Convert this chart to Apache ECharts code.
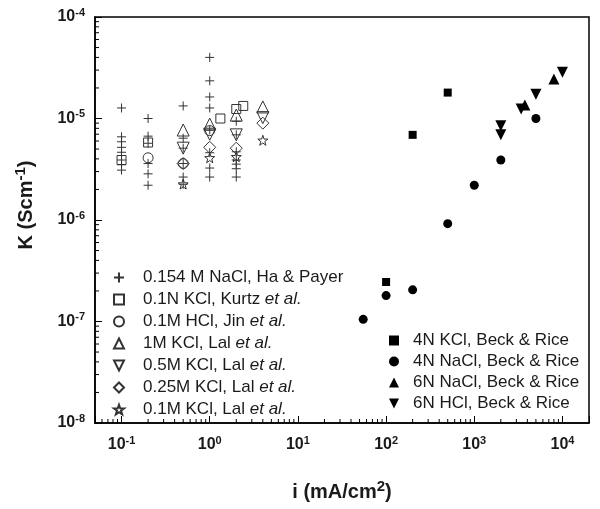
<!DOCTYPE html>
<html>
<head>
<meta charset="utf-8">
<script src="https://cdn.jsdelivr.net/npm/echarts@6/dist/echarts.min.js"></script>
<style>html,body{margin:0;padding:0;background:#fff;}#c{width:600px;height:509px;}</style>
</head>
<body>
<div id="c"></div>
<script>
// ---- data ----
var haPayer = [
  [0.1,1.27e-5],[0.1,6.6e-6],[0.1,5.9e-6],[0.1,5.2e-6],[0.1,4.65e-6],[0.1,3.9e-6],[0.1,3.5e-6],[0.1,3.1e-6],
  [0.2,1.0e-5],[0.2,6.7e-6],[0.2,5.7e-6],[0.2,3.6e-6],[0.2,2.85e-6],[0.2,2.2e-6],
  [0.5,1.33e-5],[0.5,6.4e-6],[0.5,5.1e-6],[0.5,3.6e-6],[0.5,2.65e-6],[0.5,2.25e-6],
  [1,4.0e-5],[1,2.35e-5],[1,1.63e-5],[1,1.27e-5],[1,7.7e-6],[1,4.6e-6],[1,3.25e-6],[1,2.65e-6],
  [2,9.4e-6],[2,6.9e-6],[2,4.7e-6],[2,3.9e-6],[2,3.55e-6],[2,3.2e-6],[2,2.65e-6]
];
var kurtz = [[0.1,3.9e-6],[0.2,5.8e-6],[1.32,1.0e-5],[2,1.24e-5],[2.4,1.33e-5]];
var jin = [[0.2,4.1e-6],[0.5,3.6e-6],[1,7.6e-6]];
var lal1M = [[0.5,7.7e-6],[1,8.8e-6],[2,1.08e-5],[4,1.3e-5]];
var lal05M = [[0.5,5.1e-6],[1,7.0e-6],[2,6.9e-6],[4,1.02e-5]];
var lal025M = [[0.5,3.6e-6],[1,5.2e-6],[2,5.1e-6],[4,9.0e-6]];
var lal01M = [[0.5,2.26e-6],[1,4.1e-6],[2,4.2e-6],[4,6.1e-6]];
var beckKCl4N = [[100,2.45e-7],[200,6.9e-6],[500,1.8e-5]];
var beckNaCl4N = [[55,1.05e-7],[100,1.8e-7],[200,2.05e-7],[500,9.2e-7],[1000,2.2e-6],[2000,3.9e-6],[5000,1.0e-5]];
var beckNaCl6N = [[3750,1.36e-5],[8000,2.45e-5]];
var beckHCl6N = [[2000,8.5e-6],[2000,6.9e-6],[3400,1.24e-5],[5000,1.73e-5],[10000,2.85e-5]];

var names = ['0.154 M NaCl, Ha & Payer','0.1N KCl, Kurtz et al.','0.1M HCl, Jin et al.','1M KCl, Lal et al.',
             '0.5M KCl, Lal et al.','0.25M KCl, Lal et al.','0.1M KCl, Lal et al.'];
var namesR = ['4N KCl, Beck & Rice','4N NaCl, Beck & Rice','6N NaCl, Beck & Rice','6N HCl, Beck & Rice'];

var xMin = 0.05, xMax = 20000, yMin = 1e-8, yMax = 1e-4;

// ---- minor tick positions (axis decoration) ----
var minorTicks = [];
for (var e = -2; e <= 4; e++) {
  for (var m = 2; m <= 9; m++) {
    var v = m * Math.pow(10, e);
    if (v > xMin && v < xMax) minorTicks.push([v, yMin, 0]);
  }
}
for (var e2 = -8; e2 < -4; e2++) {
  for (var m2 = 2; m2 <= 9; m2++) {
    minorTicks.push([xMin, m2 * Math.pow(10, e2), 1]);
  }
}

var FONT = '"Liberation Sans", Arial, sans-serif';
var ink = '#1a1a1a';
var hollow = '#333';

var P_PLUS = 'path://M0,5L10,5M5,0L5,10';
var P_RECT = 'path://M0,0L10,0L10,10L0,10Z';
var P_UP = 'path://M5,0L10,10L0,10Z';
var P_DOWN = 'path://M0,0L10,0L5,10Z';
var P_DIAM = 'path://M5,0L10,5L5,10L0,5Z';
var P_STAR = 'path://M50,0L61.76,33.82L97.55,34.55L69.02,56.18L79.39,90.45L50,70L20.61,90.45L30.98,56.18L2.45,34.55L38.24,33.82Z';

function hollowSeries(name, data, symbol, size) {
  return {
    name: name, type: 'scatter', data: data, symbol: symbol, symbolSize: size,
    itemStyle: { color: 'rgba(0,0,0,0)', borderColor: hollow, borderWidth: 1, opacity: 1 },
    emphasis: { disabled: true }, z: 3
  };
}
function filledSeries(name, data, symbol, size) {
  return {
    name: name, type: 'scatter', data: data, symbol: symbol, symbolSize: size,
    itemStyle: { color: '#000', opacity: 1 },
    emphasis: { disabled: true }, z: 3
  };
}

function expLabel(v) {
  var l = Math.log10(v);
  var ex = Math.round(l);
  if (Math.abs(l - ex) > 1e-6) return '';
  return '{b|10}{s|' + ex + '}';
}
var tickRich = {
  b: { fontSize: 16, fontWeight: 'bold', fontFamily: FONT, color: ink, lineHeight: 20 },
  s: { fontSize: 11, fontWeight: 'bold', fontFamily: FONT, color: ink, lineHeight: 11, verticalAlign: 'top' }
};

function legendFmt(n) {
  var k = n.indexOf('et al.');
  if (k >= 0) return '{n|' + n.slice(0, k) + '}{i|et al.}';
  return '{n|' + n + '}';
}
function legRich(pad) {
  return {
    n: { fontSize: 17, fontFamily: FONT, color: ink, lineHeight: 16, padding: [0, 0, 0, pad] },
    i: { fontSize: 17, fontFamily: FONT, color: ink, fontStyle: 'italic', lineHeight: 16 }
  };
}

var chart = echarts.init(document.getElementById('c'), null, { renderer: 'canvas' });
chart.setOption({
  backgroundColor: '#fff',
  animation: false,
  grid: { left: 95, right: 11, top: 17, bottom: 86, show: true, borderColor: '#000', borderWidth: 1.5, backgroundColor: 'transparent' },
  xAxis: {
    type: 'log', logBase: 10, min: xMin, max: xMax, splitNumber: 5,
    name: '{a|i (mA/cm}{s|2}{a|)}', nameLocation: 'middle', nameGap: 56,
    nameTextStyle: { rich: {
      a: { fontSize: 20, fontWeight: 'bold', fontFamily: FONT, color: ink, lineHeight: 26 },
      s: { fontSize: 15, fontWeight: 'bold', fontFamily: FONT, color: ink, lineHeight: 15, verticalAlign: 'top' }
    } },
    axisLine: { lineStyle: { color: '#000', width: 1.5 } },
    axisTick: { inside: true, length: 7, lineStyle: { color: '#000', width: 1 } },
    axisLabel: { formatter: expLabel, margin: 12, rich: tickRich },
    splitLine: { show: false }
  },
  yAxis: {
    type: 'log', logBase: 10, min: yMin, max: yMax, splitNumber: 4,
    name: '{a|K (Scm}{s|-1}{a|)}', nameLocation: 'middle', nameGap: 56, nameRotate: 90,
    nameTextStyle: { padding: [0, 0, 0, 30], rich: {
      a: { fontSize: 20, fontWeight: 'bold', fontFamily: FONT, color: ink, lineHeight: 26 },
      s: { fontSize: 15, fontWeight: 'bold', fontFamily: FONT, color: ink, lineHeight: 15, verticalAlign: 'top' }
    } },
    axisLine: { lineStyle: { color: '#000', width: 1.5 } },
    axisTick: { inside: true, length: 7, lineStyle: { color: '#000', width: 1 } },
    axisLabel: { formatter: expLabel, margin: 10, rich: tickRich },
    splitLine: { show: false }
  },
  legend: [
    {
      data: names, orient: 'vertical', left: 113, top: 269, padding: 0,
      itemWidth: 10, itemHeight: 10, itemGap: 5, selectedMode: false,
      formatter: legendFmt, textStyle: { fontSize: 17, fontFamily: FONT, color: ink, rich: legRich(14) }
    },
    {
      data: namesR, orient: 'vertical', left: 389, top: 332, padding: 0,
      itemWidth: 10, itemHeight: 10, itemGap: 4, selectedMode: false,
      formatter: legendFmt, textStyle: { fontSize: 17, fontFamily: FONT, color: ink, rich: legRich(9) }
    }
  ],
  series: [
    hollowSeries(names[0], haPayer, P_PLUS, 9),
    hollowSeries(names[1], kurtz, P_RECT, 9),
    hollowSeries(names[2], jin, 'circle', 10),
    hollowSeries(names[3], lal1M, P_UP, 12),
    hollowSeries(names[4], lal05M, P_DOWN, 12),
    hollowSeries(names[5], lal025M, P_DIAM, 12),
    hollowSeries(names[6], lal01M, P_STAR, 10),
    filledSeries(namesR[0], beckKCl4N, P_RECT, 8),
    filledSeries(namesR[1], beckNaCl4N, 'circle', 9),
    filledSeries(namesR[2], beckNaCl6N, P_UP, 11),
    filledSeries(namesR[3], beckHCl6N, P_DOWN, 11),
    {
      type: 'custom', silent: true, clip: false, z: 5, data: minorTicks,
      renderItem: function (params, api) {
        var p = api.coord([api.value(0), api.value(1)]);
        var which = api.value(2);
        var shape = which === 0
          ? { x1: p[0], y1: p[1], x2: p[0], y2: p[1] - 4 }
          : { x1: p[0], y1: p[1], x2: p[0] + 4, y2: p[1] };
        return { type: 'line', shape: shape, style: { stroke: '#000', lineWidth: 1 } };
      }
    }
  ]
});
</script>
</body>
</html>
